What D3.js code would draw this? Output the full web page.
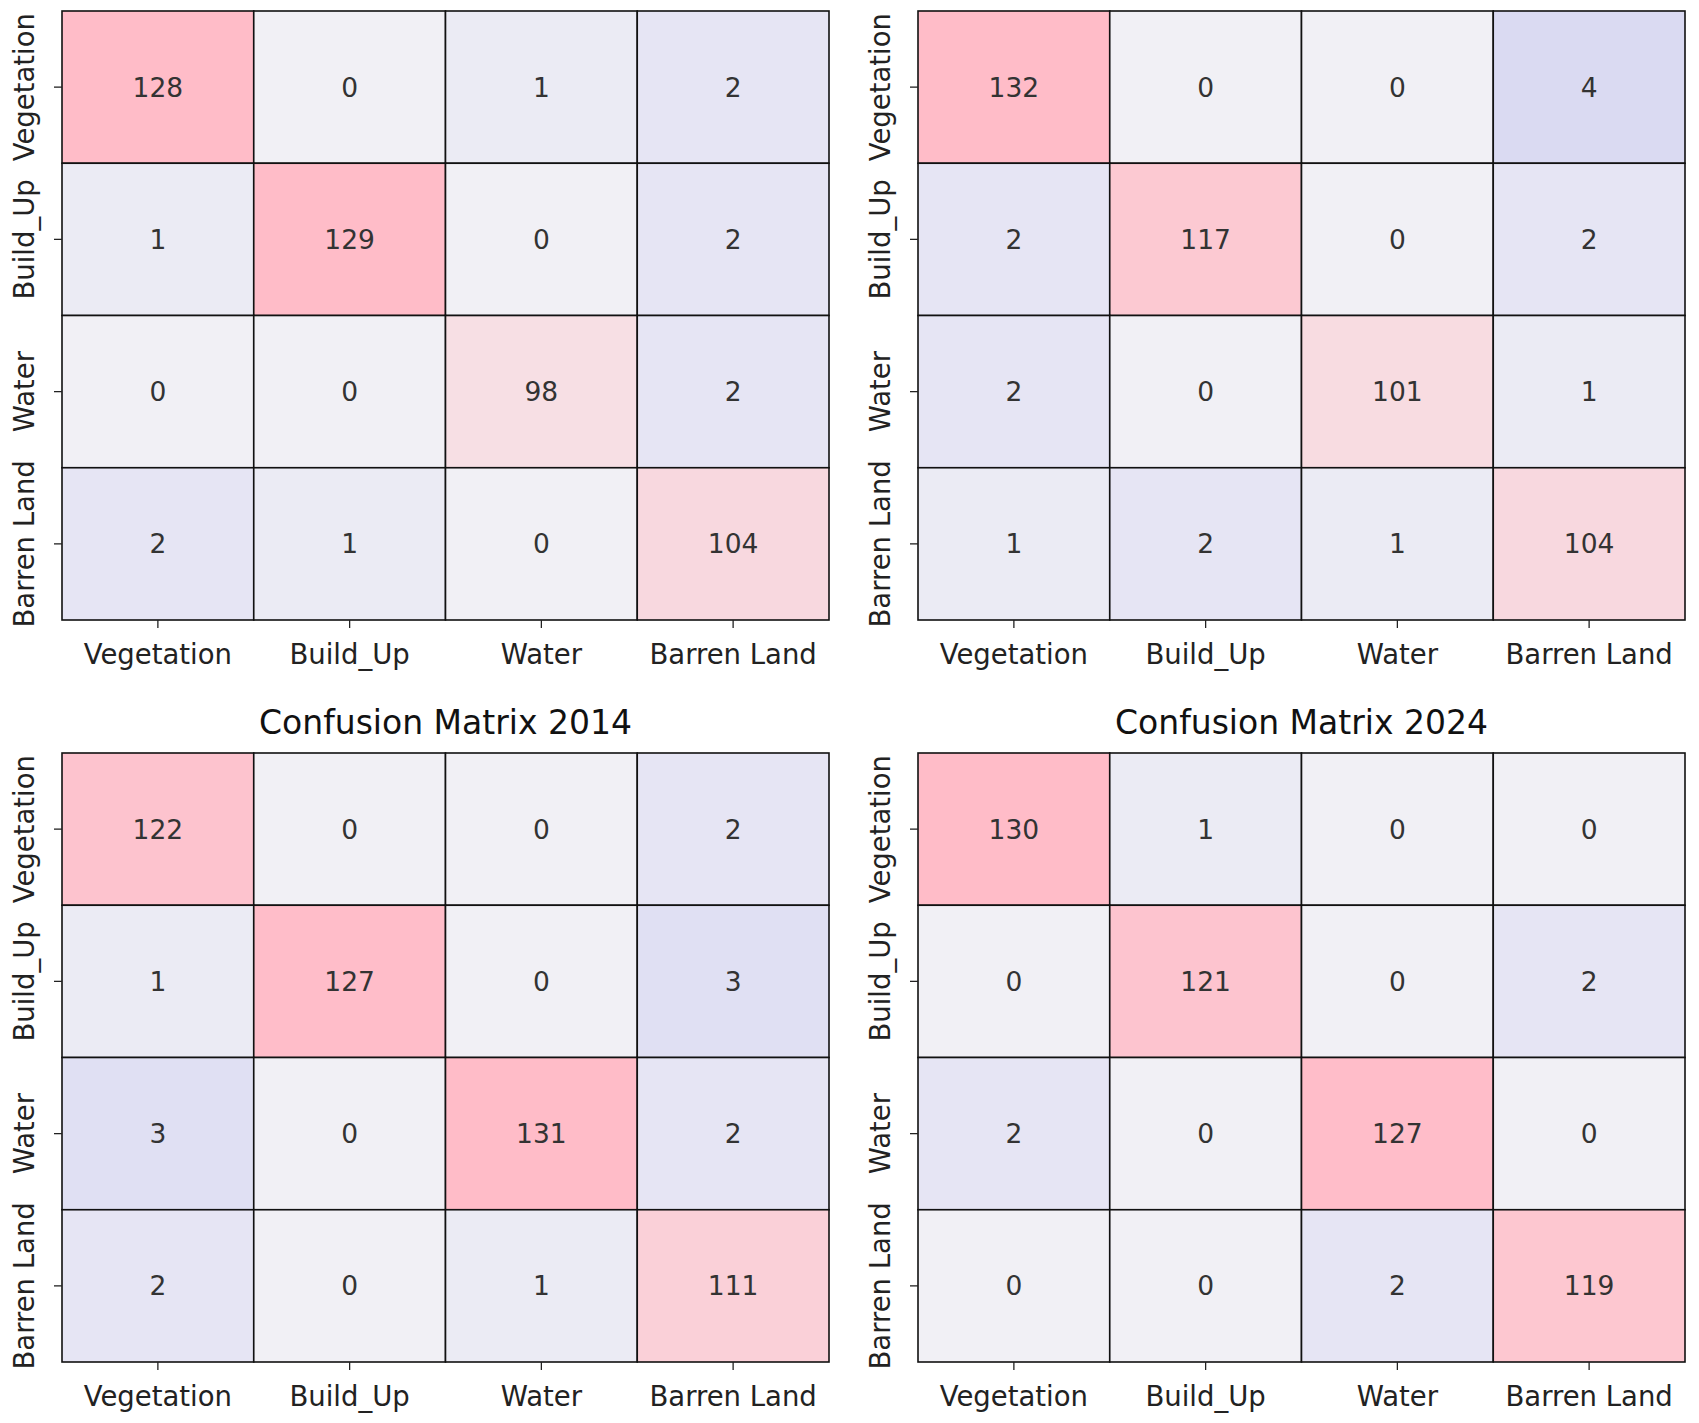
<!DOCTYPE html>
<html>
<head>
<meta charset="utf-8">
<script src="https://cdn.jsdelivr.net/npm/d3@7"></script>
<style>
  body { margin: 0; background: #fff; }
  svg { display: block; font-family: "DejaVu Sans", sans-serif; }
</style>
</head>
<body>
<div id="chart"></div>
<script>
// class labels, same for rows (actual) and columns (predicted)
var categories = ["Vegetation", "Build_Up", "Water", "Barren Land"];

// the two top panels have their titles cut off in the source
var topLeftMatrix = [
  [128, 0, 1, 2],
  [1, 129, 0, 2],
  [0, 0, 98, 2],
  [2, 1, 0, 104]
];
var topRightMatrix = [
  [132, 0, 0, 4],
  [2, 117, 0, 2],
  [2, 0, 101, 1],
  [1, 2, 1, 104]
];
var matrix2014 = [
  [122, 0, 0, 2],
  [1, 127, 0, 3],
  [3, 0, 131, 2],
  [2, 0, 1, 111]
];
var matrix2024 = [
  [130, 1, 0, 0],
  [0, 121, 0, 2],
  [2, 0, 127, 0],
  [0, 0, 2, 119]
];

var panelTitles = ["", "", "Confusion Matrix 2014", "Confusion Matrix 2024"];

var width = 1699, height = 1423;
var cellW = 191.75, cellH = 152.25;

var svg = d3.select("#chart").append("svg")
  .attr("width", width)
  .attr("height", height);

// small counts go lavender, large counts go pink
var color = d3.scaleLinear()
  .domain([0, 4, 95, 128])
  .range(["#f1f0f5", "#dadaf2", "#f6e3e7", "#ffbcc8"])
  .clamp(true);

function drawMatrix(matrix, left, top, title){
  var x = d3.scaleBand().domain(categories).range([0, cellW * 4]);
  var y = d3.scaleBand().domain(categories).range([0, cellH * 4]);

  var g = svg.append("g").attr("transform", `translate(${left},${top})`);

  var cells = [];
  matrix.forEach(function(row, i){
    row.forEach(function(v, j){
      cells.push({row: categories[i], col: categories[j], value: v});
    });
  });

  g.selectAll("rect.cell").data(cells).join("rect")
    .attr("class", "cell")
    .attr("x", d => x(d.col))
    .attr("y", d => y(d.row))
    .attr("width", x.bandwidth())
    .attr("height", y.bandwidth())
    .attr("fill", d => color(d.value))
    .attr("stroke", "#111")
    .attr("stroke-width", 1.6);

  g.selectAll("text.val").data(cells).join("text")
    .attr("class", "val")
    .attr("x", d => x(d.col) + x.bandwidth() / 2)
    .attr("y", d => y(d.row) + y.bandwidth() / 2)
    .attr("text-anchor", "middle")
    .attr("dominant-baseline", "central")
    .attr("fill", "#333")
    .style("font-size", "26.5px")
    .text(d => d.value);

  var xAxis = g.append("g")
    .attr("transform", `translate(0,${cellH * 4})`)
    .call(d3.axisBottom(x).tickSize(8).tickSizeOuter(0).tickPadding(16));
  xAxis.select(".domain").remove();
  xAxis.selectAll("line").attr("stroke", "#222").attr("stroke-width", 1.3);
  xAxis.selectAll("text").attr("fill", "#222").style("font-size", "27.5px")
    .style("font-family", "DejaVu Sans, sans-serif");

  var yAxis = g.append("g")
    .call(d3.axisLeft(y).tickSize(8).tickSizeOuter(0).tickPadding(0));
  yAxis.select(".domain").remove();
  yAxis.selectAll("line").attr("stroke", "#222").attr("stroke-width", 1.3);
  yAxis.selectAll("text")
    .attr("fill", "#222")
    .style("font-size", "27.5px")
    .style("font-family", "DejaVu Sans, sans-serif")
    .attr("x", null).attr("dy", null)
    .attr("text-anchor", "middle")
    .attr("transform", "translate(-38,0) rotate(-90)")
    .attr("dominant-baseline", "central");

  if(title){
    g.append("text")
      .attr("x", cellW * 2)
      .attr("y", -19)
      .attr("text-anchor", "middle")
      .attr("fill", "#111")
      .style("font-size", "33px")
      .text(title);
  }
}

drawMatrix(topLeftMatrix, 62, 11, panelTitles[0]);
drawMatrix(topRightMatrix, 918, 11, panelTitles[1]);
drawMatrix(matrix2014, 62, 753, panelTitles[2]);
drawMatrix(matrix2024, 918, 753, panelTitles[3]);
</script>
</body>
</html>
